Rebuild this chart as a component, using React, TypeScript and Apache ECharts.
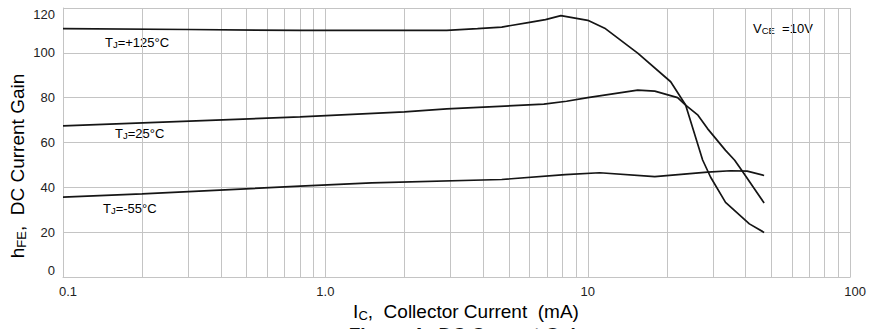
import React, { useEffect, useRef } from "react";
import * as echarts from "echarts";

// Collector current (mA) and DC current gain readings for each junction temperature
const t125X = [0.1, 0.3, 0.8, 2.9, 3.8, 4.7, 6.0, 6.9, 7.9, 10.0, 11.6, 15.5, 20.7, 23.6, 27.4, 29.4, 33.5, 41.3, 47];
const t125Y = [110.8, 110.4, 110.0, 110.0, 110.8, 111.5, 113.6, 114.8, 116.6, 114.5, 111.0, 99.9, 87.1, 76.7, 52.2, 44.5, 33.3, 23.7, 19.9];

const t25X = [0.1, 0.8, 2.0, 2.9, 6.8, 8.3, 10.0, 15.5, 18.0, 22.0, 23.6, 26.3, 28.6, 33.5, 36.3, 38.6, 47];
const t25Y = [67.4, 71.4, 73.7, 75.0, 77.1, 78.4, 80.0, 83.4, 82.9, 80.0, 76.7, 72.2, 66.2, 56.5, 52.1, 47.6, 33.0];

const tm55X = [0.1, 0.2, 0.8, 1.5, 4.7, 8.2, 11.1, 18.0, 28.6, 35.0, 40.5, 47];
const tm55Y = [35.6, 37.1, 40.5, 42.0, 43.5, 45.7, 46.5, 44.8, 46.8, 47.4, 47.2, 45.3];

const minorGridX = [0.2, 0.3, 0.4, 0.5, 0.6, 0.7, 0.8, 0.9, 2, 3, 4, 5, 6, 7, 8, 9, 20, 30, 40, 50, 60, 70, 80, 90];
const xTickLabels: [number, string][] = [[0.1, "0.1"], [1, "1.0"], [10, "10"], [100, "100"]];
const yMin = 0;
const yMax = 120;
const yStep = 20;

const FONT = "'Liberation Sans', Arial, Helvetica, sans-serif";
const GRID = "#c4c4c4";
const INK = "#151515";

const pairs = (xs: number[], ys: number[]) => xs.map((x, i) => [x, ys[i]]);

export default function App() {
  const ref = useRef<HTMLDivElement>(null);
  useEffect(() => {
    document.body.style.margin = "0";
    if (!ref.current) return;
    const chart = echarts.init(ref.current, null, { renderer: "svg" });
    const curve = (name: string, xs: number[], ys: number[]) => ({
      name,
      type: "line",
      data: pairs(xs, ys),
      showSymbol: false,
      symbol: "none",
      smooth: false,
      z: 5,
      lineStyle: { color: INK, width: 1.7 },
      silent: true,
    });
    const labelRich = {
      a: { fontFamily: FONT, fontSize: 13, color: "#222", lineHeight: 15 },
      b: { fontFamily: FONT, fontSize: 9.5, color: "#222", lineHeight: 12.5, verticalAlign: "bottom" },
    };
    const bigRich = {
      a: { fontFamily: FONT, fontSize: 19, color: "#111", lineHeight: 22 },
      b: { fontFamily: FONT, fontSize: 13, color: "#111", lineHeight: 17.8, verticalAlign: "bottom" },
    };
    chart.setOption({
      animation: false,
      grid: { left: 63, right: 17, top: 8, bottom: 52, containLabel: false },
      xAxis: {
        type: "log",
        logBase: 10,
        min: 0.1,
        max: 100,
        axisLine: { show: true, lineStyle: { color: GRID, width: 1 } },
        axisTick: { show: false },
        splitLine: { show: true, lineStyle: { color: GRID, width: 1 } },
        axisLabel: {
          margin: 8,
          fontFamily: FONT,
          fontSize: 13,
          color: "#222",
          formatter: (v: number) => {
            for (const [val, txt] of xTickLabels) {
              if (Math.abs(v - val) / val < 1e-6) {
                return val === 0.1 || val === 100 ? `{s|${txt}}` : txt;
              }
            }
            return "";
          },
          rich: { s: { fontFamily: FONT, fontSize: 13, color: "#222", padding: [0, 0, 0, 10] } },
        },
      },
      yAxis: {
        type: "value",
        min: yMin,
        max: yMax,
        interval: yStep,
        axisLine: { show: true, lineStyle: { color: GRID, width: 1 } },
        axisTick: { show: false },
        splitLine: { show: true, lineStyle: { color: GRID, width: 1 } },
        axisLabel: {
          margin: 8,
          fontFamily: FONT,
          fontSize: 13,
          color: "#222",
          verticalAlignMinLabel: "bottom",
          verticalAlignMaxLabel: "top",
        },
      },
      series: [
        {
          name: "grid",
          type: "line",
          data: [],
          z: 1,
          silent: true,
          markLine: {
            silent: true,
            symbol: ["none", "none"],
            label: { show: false },
            lineStyle: { color: GRID, width: 1, type: "solid" },
            emphasis: { disabled: true },
            data: minorGridX.map((x) => ({ xAxis: x })),
          },
        },
        curve("TJ=+125°C", t125X, t125Y),
        curve("TJ=25°C", t25X, t25Y),
        curve("TJ=-55°C", tm55X, tm55Y),
      ],
      graphic: [
        {
          type: "text",
          x: 105,
          y: 42,
          style: { text: "{a|T}{b|J}{a|=+125°C}", rich: labelRich, verticalAlign: "middle" },
        },
        {
          type: "text",
          x: 115,
          y: 133,
          style: { text: "{a|T}{b|J}{a|=25°C}", rich: labelRich, verticalAlign: "middle" },
        },
        {
          type: "text",
          x: 103,
          y: 208,
          style: { text: "{a|T}{b|J}{a|=-55°C}", rich: labelRich, verticalAlign: "middle" },
        },
        {
          type: "text",
          x: 753,
          y: 28,
          style: { text: "{a|V}{b|CE}{a|  =10V}", rich: labelRich, verticalAlign: "middle" },
        },
        {
          type: "text",
          x: 17,
          y: 166,
          rotation: Math.PI / 2,
          style: {
            text: "{a|h}{b|FE}{a|,  DC Current Gain}",
            rich: bigRich,
            align: "center",
            verticalAlign: "middle",
          },
        },
        {
          type: "text",
          x: 466,
          y: 311,
          style: {
            text: "{a|I}{b|C}{a|,  Collector Current  (mA)}",
            rich: bigRich,
            align: "center",
            verticalAlign: "middle",
          },
        },
        {
          type: "text",
          x: 468,
          y: 325,
          style: {
            text: "Figure 4.  DC Current Gain",
            fontFamily: FONT,
            fontSize: 19,
            fontWeight: "bold",
            fill: "#111",
            align: "center",
            verticalAlign: "top",
          },
        },
      ],
    });
    return () => chart.dispose();
  }, []);
  return <div ref={ref} style={{ width: 869, height: 329 }} />;
}
